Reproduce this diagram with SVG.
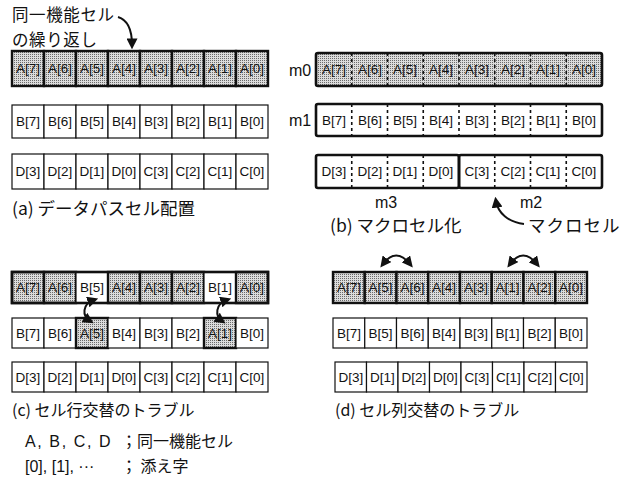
<svg xmlns="http://www.w3.org/2000/svg" width="630" height="495" viewBox="0 0 630 495">
<defs>
<pattern id="dots" width="2" height="2" patternUnits="userSpaceOnUse">
<rect width="2" height="2" fill="#dcdcdc"/>
<rect width="1" height="1" fill="#6a6a6a"/>
</pattern>
<marker id="ah" viewBox="0 0 10 10" refX="6" refY="5" markerWidth="5.5" markerHeight="5.5" orient="auto-start-reverse" markerUnits="strokeWidth">
<path d="M0,0 L10,5 L0,10 z" fill="#111"/>
</marker>
<style>
.t{font-family:"Liberation Sans","DejaVu Sans",sans-serif;font-size:13.5px;fill:#111;text-anchor:middle}
.j{font-family:"Noto Sans CJK JP","Noto Sans",sans-serif;font-size:16px;fill:#111}
.jb{font-family:"Noto Sans CJK JP","Noto Sans",sans-serif;font-size:17.5px;fill:#111}
.jn{font-family:"Noto Sans CJK JP","Noto Sans",sans-serif;font-size:16.5px;fill:#111}
.l{font-family:"Liberation Sans","DejaVu Sans",sans-serif;font-size:16px;fill:#111}
.g{fill:url(#dots);stroke:#111;stroke-width:2.4}
.w{fill:#fff;stroke:#111;stroke-width:1.2}
.box{fill:none;stroke:#111;stroke-width:2.6}
.gb{fill:url(#dots);stroke:none}
.dash{stroke:#111;stroke-width:1.6;stroke-dasharray:3 3}
.arr{fill:none;stroke:#111;stroke-width:2;marker-end:url(#ah)}
.arr2{fill:none;stroke:#111;stroke-width:2;marker-start:url(#ah);marker-end:url(#ah)}
</style>
</defs>

<!-- (a) -->
<g id="a-note">
<text class="jn" x="12" y="21" letter-spacing="0.6">同一機能セル</text>
<text class="jn" x="12" y="46" letter-spacing="0.6">の繰り返し</text>
</g>
<g id="a-rowA">
<rect class="g" x="12" y="51" width="32" height="35"/><text class="t" x="28" y="73">A[7]</text>
<rect class="g" x="44" y="51" width="32" height="35"/><text class="t" x="60" y="73">A[6]</text>
<rect class="g" x="76" y="51" width="32" height="35"/><text class="t" x="92" y="73">A[5]</text>
<rect class="g" x="108" y="51" width="32" height="35"/><text class="t" x="124" y="73">A[4]</text>
<rect class="g" x="140" y="51" width="32" height="35"/><text class="t" x="156" y="73">A[3]</text>
<rect class="g" x="172" y="51" width="32" height="35"/><text class="t" x="188" y="73">A[2]</text>
<rect class="g" x="204" y="51" width="32" height="35"/><text class="t" x="220" y="73">A[1]</text>
<rect class="g" x="236" y="51" width="32" height="35"/><text class="t" x="252" y="73">A[0]</text>
</g>
<g id="a-rowB">
<rect class="w" x="12" y="105" width="32" height="33"/><text class="t" x="28" y="126">B[7]</text>
<rect class="w" x="44" y="105" width="32" height="33"/><text class="t" x="60" y="126">B[6]</text>
<rect class="w" x="76" y="105" width="32" height="33"/><text class="t" x="92" y="126">B[5]</text>
<rect class="w" x="108" y="105" width="32" height="33"/><text class="t" x="124" y="126">B[4]</text>
<rect class="w" x="140" y="105" width="32" height="33"/><text class="t" x="156" y="126">B[3]</text>
<rect class="w" x="172" y="105" width="32" height="33"/><text class="t" x="188" y="126">B[2]</text>
<rect class="w" x="204" y="105" width="32" height="33"/><text class="t" x="220" y="126">B[1]</text>
<rect class="w" x="236" y="105" width="32" height="33"/><text class="t" x="252" y="126">B[0]</text>
</g>
<g id="a-rowD">
<rect class="w" x="12" y="154" width="32" height="35"/><text class="t" x="28" y="176">D[3]</text>
<rect class="w" x="44" y="154" width="32" height="35"/><text class="t" x="60" y="176">D[2]</text>
<rect class="w" x="76" y="154" width="32" height="35"/><text class="t" x="92" y="176">D[1]</text>
<rect class="w" x="108" y="154" width="32" height="35"/><text class="t" x="124" y="176">D[0]</text>
<rect class="w" x="140" y="154" width="32" height="35"/><text class="t" x="156" y="176">C[3]</text>
<rect class="w" x="172" y="154" width="32" height="35"/><text class="t" x="188" y="176">C[2]</text>
<rect class="w" x="204" y="154" width="32" height="35"/><text class="t" x="220" y="176">C[1]</text>
<rect class="w" x="236" y="154" width="32" height="35"/><text class="t" x="252" y="176">C[0]</text>
</g>
<g id="a-caption"><text class="jb" x="12" y="215">(a) データパスセル配置</text></g>

<!-- (b) -->
<g id="b-m0">
<text class="l" x="289" y="76">m0</text>
<rect class="gb" x="316" y="53" width="286" height="33"/>
<line class="dash" x1="351.75" y1="53" x2="351.75" y2="86"/>
<line class="dash" x1="387.5" y1="53" x2="387.5" y2="86"/>
<line class="dash" x1="423.25" y1="53" x2="423.25" y2="86"/>
<line class="dash" x1="459" y1="53" x2="459" y2="86"/>
<line class="dash" x1="494.75" y1="53" x2="494.75" y2="86"/>
<line class="dash" x1="530.5" y1="53" x2="530.5" y2="86"/>
<line class="dash" x1="566.25" y1="53" x2="566.25" y2="86"/>
<rect class="box" x="316" y="53" width="286" height="33" rx="2"/>
<text class="t" x="334" y="74">A[7]</text><text class="t" x="370" y="74">A[6]</text><text class="t" x="405" y="74">A[5]</text><text class="t" x="441" y="74">A[4]</text>
<text class="t" x="477" y="74">A[3]</text><text class="t" x="513" y="74">A[2]</text><text class="t" x="548" y="74">A[1]</text><text class="t" x="584" y="74">A[0]</text>
</g>
<g id="b-m1">
<text class="l" x="289" y="126">m1</text>
<rect fill="#fff" x="316" y="104" width="286" height="32"/>
<line class="dash" x1="351.75" y1="104" x2="351.75" y2="136"/>
<line class="dash" x1="387.5" y1="104" x2="387.5" y2="136"/>
<line class="dash" x1="423.25" y1="104" x2="423.25" y2="136"/>
<line class="dash" x1="459" y1="104" x2="459" y2="136"/>
<line class="dash" x1="494.75" y1="104" x2="494.75" y2="136"/>
<line class="dash" x1="530.5" y1="104" x2="530.5" y2="136"/>
<line class="dash" x1="566.25" y1="104" x2="566.25" y2="136"/>
<rect class="box" x="316" y="104" width="286" height="32" rx="2"/>
<text class="t" x="334" y="125">B[7]</text><text class="t" x="370" y="125">B[6]</text><text class="t" x="405" y="125">B[5]</text><text class="t" x="441" y="125">B[4]</text>
<text class="t" x="477" y="125">B[3]</text><text class="t" x="513" y="125">B[2]</text><text class="t" x="548" y="125">B[1]</text><text class="t" x="584" y="125">B[0]</text>
</g>
<g id="b-m3">
<rect fill="#fff" x="316" y="155" width="143" height="33"/>
<line class="dash" x1="351.75" y1="155" x2="351.75" y2="188"/>
<line class="dash" x1="387.5" y1="155" x2="387.5" y2="188"/>
<line class="dash" x1="423.25" y1="155" x2="423.25" y2="188"/>
<rect class="box" x="316" y="155" width="143" height="33" rx="2"/>
<text class="t" x="334" y="176">D[3]</text><text class="t" x="370" y="176">D[2]</text><text class="t" x="405" y="176">D[1]</text><text class="t" x="441" y="176">D[0]</text>
<text class="l" x="386" y="208" text-anchor="middle">m3</text>
</g>
<g id="b-m2">
<line class="dash" x1="494.75" y1="155" x2="494.75" y2="188"/>
<line class="dash" x1="530.5" y1="155" x2="530.5" y2="188"/>
<line class="dash" x1="566.25" y1="155" x2="566.25" y2="188"/>
<rect class="box" x="459" y="155" width="143" height="33" rx="2"/>
<text class="t" x="477" y="176">C[3]</text><text class="t" x="513" y="176">C[2]</text><text class="t" x="548" y="176">C[1]</text><text class="t" x="584" y="176">C[0]</text>
<text class="l" x="531" y="208" text-anchor="middle">m2</text>
</g>
<g id="b-caption"><text class="jb" x="330" y="232">(b) マクロセル化</text></g>
<g id="b-macrocell"><text class="jb" x="528" y="232" letter-spacing="1">マクロセル</text></g>

<!-- (c) -->
<g id="c-rowA">
<rect class="g" x="12" y="272" width="32" height="31"/><text class="t" x="28" y="292">A[7]</text>
<rect class="g" x="44" y="272" width="32" height="31"/><text class="t" x="60" y="292">A[6]</text>
<rect class="w" x="76" y="272" width="32" height="31"/><text class="t" x="92" y="292">B[5]</text>
<rect class="g" x="108" y="272" width="32" height="31"/><text class="t" x="124" y="292">A[4]</text>
<rect class="g" x="140" y="272" width="32" height="31"/><text class="t" x="156" y="292">A[3]</text>
<rect class="g" x="172" y="272" width="32" height="31"/><text class="t" x="188" y="292">A[2]</text>
<rect class="w" x="204" y="272" width="32" height="31"/><text class="t" x="220" y="292">B[1]</text>
<rect class="g" x="236" y="272" width="32" height="31"/><text class="t" x="252" y="292">A[0]</text>
<rect class="box" x="12" y="272" width="256" height="31"/>
</g>
<g id="c-rowB">
<rect class="w" x="12" y="318" width="32" height="30"/><text class="t" x="28" y="338">B[7]</text>
<rect class="w" x="44" y="318" width="32" height="30"/><text class="t" x="60" y="338">B[6]</text>
<rect class="g" x="76" y="318" width="32" height="30"/><text class="t" x="92" y="338">A[5]</text>
<rect class="w" x="108" y="318" width="32" height="30"/><text class="t" x="124" y="338">B[4]</text>
<rect class="w" x="140" y="318" width="32" height="30"/><text class="t" x="156" y="338">B[3]</text>
<rect class="w" x="172" y="318" width="32" height="30"/><text class="t" x="188" y="338">B[2]</text>
<rect class="g" x="204" y="318" width="32" height="30"/><text class="t" x="220" y="338">A[1]</text>
<rect class="w" x="236" y="318" width="32" height="30"/><text class="t" x="252" y="338">B[0]</text>
</g>
<g id="c-rowD">
<rect class="w" x="12" y="362" width="32" height="30"/><text class="t" x="28" y="382">D[3]</text>
<rect class="w" x="44" y="362" width="32" height="30"/><text class="t" x="60" y="382">D[2]</text>
<rect class="w" x="76" y="362" width="32" height="30"/><text class="t" x="92" y="382">D[1]</text>
<rect class="w" x="108" y="362" width="32" height="30"/><text class="t" x="124" y="382">D[0]</text>
<rect class="w" x="140" y="362" width="32" height="30"/><text class="t" x="156" y="382">C[3]</text>
<rect class="w" x="172" y="362" width="32" height="30"/><text class="t" x="188" y="382">C[2]</text>
<rect class="w" x="204" y="362" width="32" height="30"/><text class="t" x="220" y="382">C[1]</text>
<rect class="w" x="236" y="362" width="32" height="30"/><text class="t" x="252" y="382">C[0]</text>
</g>
<g id="c-caption"><text class="j" x="12" y="416">(c) セル行交替のトラブル</text></g>

<!-- (d) -->
<g id="d-rowA">
<rect class="g" x="333" y="272" width="31.75" height="31"/><text class="t" x="349" y="292">A[7]</text>
<rect class="g" x="364.75" y="272" width="31.75" height="31"/><text class="t" x="380.6" y="292">A[5]</text>
<rect class="g" x="396.5" y="272" width="31.75" height="31"/><text class="t" x="412.4" y="292">A[6]</text>
<rect class="g" x="428.25" y="272" width="31.75" height="31"/><text class="t" x="444.1" y="292">A[4]</text>
<rect class="g" x="460" y="272" width="31.75" height="31"/><text class="t" x="475.9" y="292">A[3]</text>
<rect class="g" x="491.75" y="272" width="31.75" height="31"/><text class="t" x="507.6" y="292">A[1]</text>
<rect class="g" x="523.5" y="272" width="31.75" height="31"/><text class="t" x="539.4" y="292">A[2]</text>
<rect class="g" x="555.25" y="272" width="31.75" height="31"/><text class="t" x="571.1" y="292">A[0]</text>
</g>
<g id="d-rowB">
<rect class="w" x="333" y="318" width="31.75" height="30"/><text class="t" x="349" y="338">B[7]</text>
<rect class="w" x="364.75" y="318" width="31.75" height="30"/><text class="t" x="380.6" y="338">B[5]</text>
<rect class="w" x="396.5" y="318" width="31.75" height="30"/><text class="t" x="412.4" y="338">B[6]</text>
<rect class="w" x="428.25" y="318" width="31.75" height="30"/><text class="t" x="444.1" y="338">B[4]</text>
<rect class="w" x="460" y="318" width="31.75" height="30"/><text class="t" x="475.9" y="338">B[3]</text>
<rect class="w" x="491.75" y="318" width="31.75" height="30"/><text class="t" x="507.6" y="338">B[1]</text>
<rect class="w" x="523.5" y="318" width="31.75" height="30"/><text class="t" x="539.4" y="338">B[2]</text>
<rect class="w" x="555.25" y="318" width="31.75" height="30"/><text class="t" x="571.1" y="338">B[0]</text>
</g>
<g id="d-rowD">
<rect class="w" x="335" y="362" width="31.5" height="30"/><text class="t" x="350.8" y="382">D[3]</text>
<rect class="w" x="366.5" y="362" width="31.5" height="30"/><text class="t" x="382.3" y="382">D[1]</text>
<rect class="w" x="398" y="362" width="31.5" height="30"/><text class="t" x="413.8" y="382">D[2]</text>
<rect class="w" x="429.5" y="362" width="31.5" height="30"/><text class="t" x="445.3" y="382">D[0]</text>
<rect class="w" x="461" y="362" width="31.5" height="30"/><text class="t" x="476.8" y="382">C[3]</text>
<rect class="w" x="492.5" y="362" width="31.5" height="30"/><text class="t" x="508.3" y="382">C[1]</text>
<rect class="w" x="524" y="362" width="31.5" height="30"/><text class="t" x="539.8" y="382">C[2]</text>
<rect class="w" x="555.5" y="362" width="31.5" height="30"/><text class="t" x="571.3" y="382">C[0]</text>
</g>
<g id="d-caption"><text class="j" x="335" y="416">(d) セル列交替のトラブル</text></g>

<!-- legend -->
<g id="legend">
<text class="l" x="25" y="447" letter-spacing="1.6">A, B, C, D</text>
<text class="j" x="121" y="447">；同一機能セル</text>
<text class="l" x="25" y="472">[0], [1], ···</text>
<text class="j" x="121" y="472">； 添え字</text>
</g>

<!-- connectors -->
<g id="connectors">
<path class="arr" d="M118,17 C128,20 132,30 132,45"/>
<path class="arr" d="M524,224 C508,222 498,213 496,201"/>
<path class="arr2" d="M94,300 C82,304 82,316 90,321"/>
<path class="arr2" d="M227,300 C215,304 215,316 222,321"/>
<path class="arr2" d="M383,264 Q396,247 410,264"/>
<path class="arr2" d="M510,264 Q523,247 537,264"/>
</g>
</svg>
